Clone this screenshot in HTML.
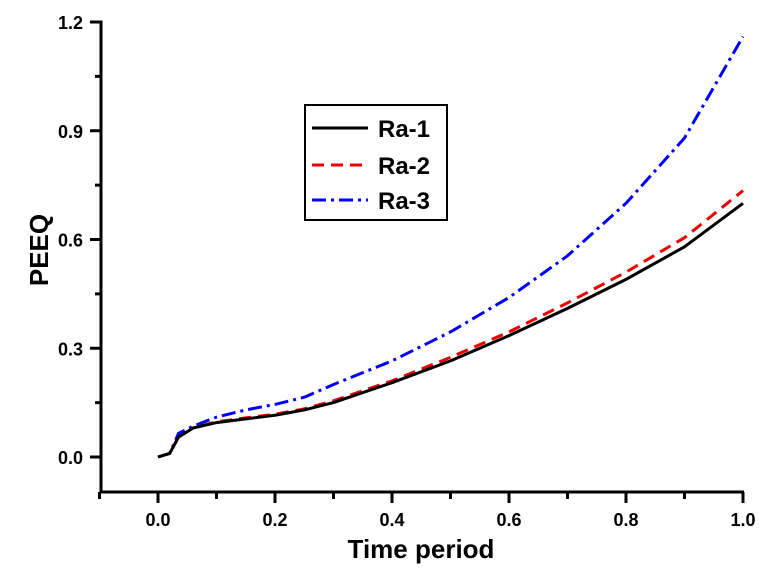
<!DOCTYPE html>
<html><head><meta charset="utf-8"><style>
body{margin:0;background:#fff}
svg text{font-family:"Liberation Sans",Arial,sans-serif;font-weight:bold}
</style></head><body>
<svg id="chart" width="772" height="576" viewBox="0 0 772 576">
<g id="axes"></g><g id="series"></g>
<g>
<rect x="305" y="105" width="142" height="115" fill="#fff" stroke="#000" stroke-width="2"/>
<line x1="312" y1="128" x2="368" y2="128" stroke="#000" stroke-width="3"/>
<text x="378" y="137" font-size="24">Ra-1</text>
<line x1="312" y1="165" x2="368" y2="165" stroke="#e00" stroke-width="3" stroke-dasharray="12,7"/>
<text x="378" y="174" font-size="24">Ra-2</text>
<line x1="312" y1="200" x2="368" y2="200" stroke="#00f" stroke-width="3" stroke-dasharray="14,5,3,5"/>
<text x="378" y="209" font-size="24">Ra-3</text>
</g>
<text x="48" y="250" font-size="26" text-anchor="middle" transform="rotate(-90 48 250)">PEEQ</text>
<text x="421" y="558" font-size="26" text-anchor="middle">Time period</text>
</svg>
<script>
const xs=[0,0.02,0.035,0.06,0.1,0.15,0.2,0.25,0.3,0.4,0.5,0.6,0.7,0.8,0.9,1.0];
const ra1=[0,0.01,0.055,0.08,0.095,0.105,0.115,0.13,0.15,0.205,0.265,0.335,0.41,0.49,0.58,0.70];
const ra2=[0,0.01,0.055,0.08,0.097,0.108,0.118,0.133,0.155,0.21,0.275,0.345,0.425,0.51,0.605,0.735];
const ra3=[0,0.01,0.065,0.085,0.11,0.13,0.145,0.165,0.2,0.265,0.345,0.44,0.555,0.7,0.88,1.16];
const xTicks=[0,0.2,0.4,0.6,0.8,1.0];
const yTicks=[0,0.3,0.6,0.9,1.2];
const X=v=>158+v*585, Y=v=>457-v*362.5;
const NS="http://www.w3.org/2000/svg";
const ax=document.getElementById('axes'), se=document.getElementById('series');
function mk(tag,attrs,parent){const e=document.createElementNS(NS,tag);for(const k in attrs)e.setAttribute(k,attrs[k]);parent.appendChild(e);return e;}
let l=mk('line',{x1:101,y1:Y(1.2)-1.5,x2:101,y2:493.5,stroke:'#000','stroke-width':3},ax);


l=mk('line',{x1:99.5,y1:492,x2:744,y2:492,stroke:'#000','stroke-width':3},ax);


for(let v=-0.1;v<=1.001;v+=0.1){const major=Math.abs(Math.round(v*10)%2)===0;
 const t=mk('line',{x1:X(v),y1:492,x2:X(v),y2:major?503:499,stroke:'#000','stroke-width':3},ax);
 
 }
for(let v=0.15;v<1.2;v+=0.3){const t=mk('line',{x1:95,y1:Y(v),x2:101,y2:Y(v),stroke:'#000','stroke-width':3},ax);
 
 }
xTicks.forEach(v=>{const t=mk('text',{x:X(v),y:526,'font-size':18,'text-anchor':'middle'},ax);t.textContent=v.toFixed(1);
 
 });
yTicks.forEach(v=>{const t=mk('line',{x1:90,y1:Y(v),x2:101,y2:Y(v),stroke:'#000','stroke-width':3},ax);
 
 
 const s=mk('text',{x:83,y:Y(v)+7,'font-size':18,'text-anchor':'end'},ax);s.textContent=v.toFixed(1);
 
 });
function path(ys,color,dash,name){const d=xs.map((x,i)=>(i?'L':'M')+X(x).toFixed(1)+','+Y(ys[i]).toFixed(1)).join('');
 const p=mk('path',{d:d,fill:'none',stroke:color,'stroke-width':3,'stroke-dasharray':dash,'stroke-linejoin':'round'},se);
 
 }
path(ra3,'#00f','14,5,3,5','line-ra-3');
path(ra2,'#e00','12,7','line-ra-2');
path(ra1,'#000','none','line-ra-1');
</script>
</body></html>
